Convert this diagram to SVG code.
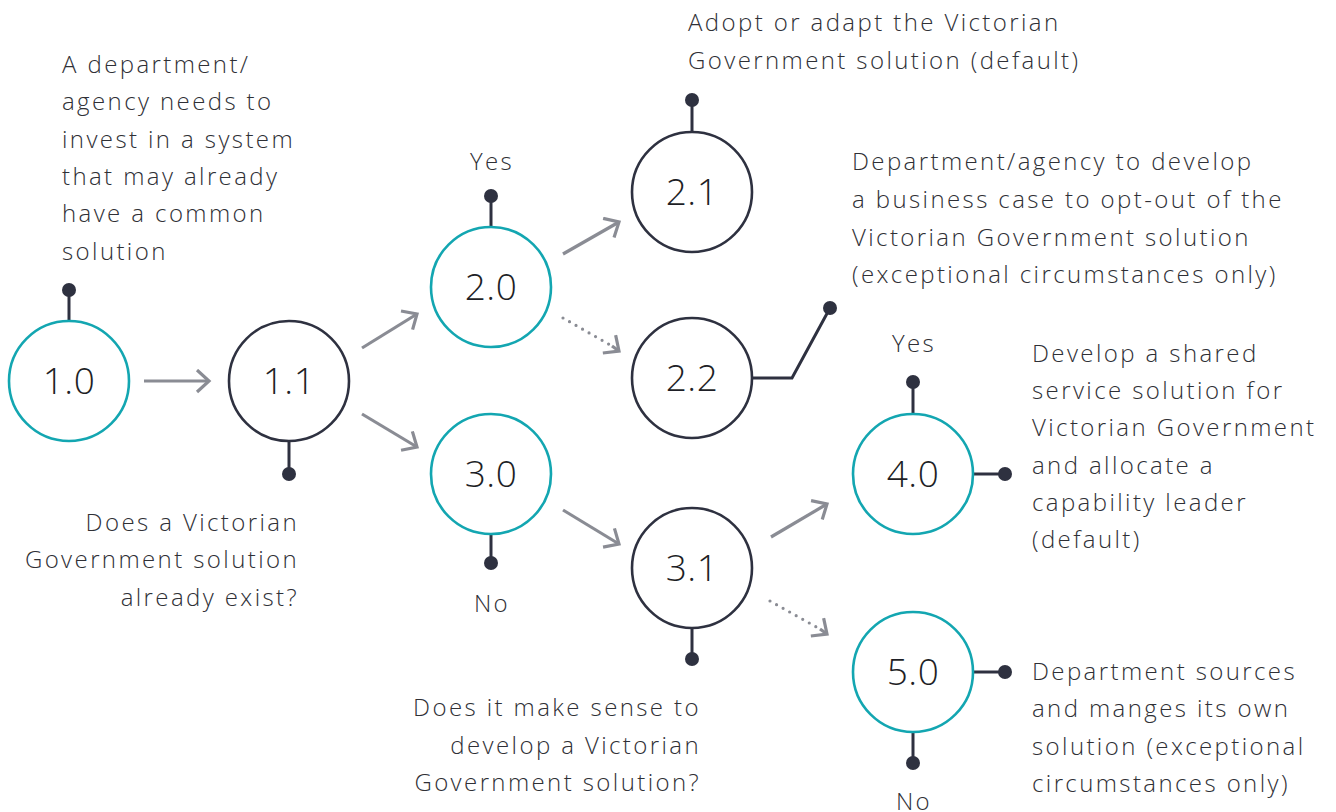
<svg xmlns="http://www.w3.org/2000/svg" width="1336" height="812" viewBox="0 0 1336 812">
<style>
.t{font-family:"Open Sans","Liberation Sans",sans-serif;font-size:24px;font-weight:300;letter-spacing:2.4px;fill:#2f3036}
.r{text-anchor:end}
.c{text-anchor:middle}
.n{font-family:"Open Sans","Liberation Sans",sans-serif;font-size:37px;font-weight:300;letter-spacing:0.5px;fill:#1e1f26;text-anchor:middle}
.teal{fill:#fff;stroke:#13a6b1;stroke-width:2.6}
.dark{fill:#fff;stroke:#2e3140;stroke-width:2.6}
.pin{stroke:#2e3140;stroke-width:3;fill:none}
.dot{fill:#2e3140}
.arr{stroke:#8a8c94;stroke-width:3.2;fill:none;marker-end:url(#ah)}
.dash{stroke:#8a8c94;stroke-width:3.2;fill:none;stroke-dasharray:0 7.5;stroke-linecap:round}
</style>
<defs>
<marker id="ah" markerUnits="userSpaceOnUse" markerWidth="30" markerHeight="30" refX="16" refY="12" orient="auto">
<path d="M4,1 L16,12 L4,23" stroke="#8a8c94" stroke-width="3.2" fill="none"/>
</marker>
</defs>
<g id="connectors">
<line class="arr" x1="144" y1="381" x2="209" y2="381"/>
<line class="arr" x1="362" y1="348" x2="417" y2="314"/>
<line class="arr" x1="362" y1="414" x2="417" y2="447"/>
<line class="arr" x1="563" y1="254" x2="619" y2="222"/>
<line class="dash" x1="563" y1="318" x2="612" y2="346"/>
<line class="arr" x1="612" y1="346" x2="619" y2="351"/>
<line class="arr" x1="563" y1="510" x2="619" y2="544"/>
<line class="arr" x1="771" y1="537" x2="827" y2="504"/>
<line class="dash" x1="770" y1="601" x2="820" y2="629"/>
<line class="arr" x1="820" y1="629" x2="827" y2="634"/>
</g>
<g id="n10">
<line class="pin" x1="69" y1="290" x2="69" y2="321"/><circle class="dot" cx="69" cy="290" r="7"/>
<circle class="teal" cx="69" cy="381" r="60"/>
<text class="n" x="69" y="394">1.0</text>
<text class="t" x="62" y="73">A department/</text>
<text class="t" x="62" y="110">agency needs to</text>
<text class="t" x="62" y="148">invest in a system</text>
<text class="t" x="62" y="185">that may already</text>
<text class="t" x="62" y="222">have a common</text>
<text class="t" x="62" y="260">solution</text>
</g>
<g id="n11">
<line class="pin" x1="289" y1="442" x2="289" y2="474"/><circle class="dot" cx="289" cy="474" r="7"/>
<circle class="dark" cx="289" cy="381" r="60"/>
<text class="n" x="289" y="394">1.1</text>
<text class="t r" x="299" y="531">Does a Victorian</text>
<text class="t r" x="299" y="568">Government solution</text>
<text class="t r" x="299" y="606">already exist?</text>
</g>
<g id="n20">
<line class="pin" x1="491" y1="196" x2="491" y2="226"/><circle class="dot" cx="491" cy="196" r="7"/>
<circle class="teal" cx="491" cy="287" r="60"/>
<text class="n" x="491" y="300">2.0</text>
<text class="t c" x="492" y="170">Yes</text>
</g>
<g id="n21">
<line class="pin" x1="692" y1="100" x2="692" y2="131"/><circle class="dot" cx="692" cy="100" r="7"/>
<circle class="dark" cx="692" cy="192" r="60"/>
<text class="n" x="692" y="205">2.1</text>
<text class="t" x="688" y="31">Adopt or adapt the Victorian</text>
<text class="t" x="688" y="69">Government solution (default)</text>
</g>
<g id="n22">
<polyline class="pin" points="752,378 792,378 830,308"/><circle class="dot" cx="830" cy="308" r="7"/>
<circle class="dark" cx="692" cy="378" r="60"/>
<text class="n" x="692" y="391">2.2</text>
<text class="t" x="852" y="170">Department/agency to develop</text>
<text class="t" x="852" y="208">a business case to opt-out of the</text>
<text class="t" x="852" y="246">Victorian Government solution</text>
<text class="t" x="852" y="283">(exceptional circumstances only)</text>
</g>
<g id="n30">
<line class="pin" x1="491" y1="535" x2="491" y2="563"/><circle class="dot" cx="491" cy="563" r="7"/>
<circle class="teal" cx="491" cy="474" r="60"/>
<text class="n" x="491" y="487">3.0</text>
<text class="t c" x="492" y="612">No</text>
</g>
<g id="n31">
<line class="pin" x1="692" y1="629" x2="692" y2="659"/><circle class="dot" cx="692" cy="659" r="7"/>
<circle class="dark" cx="692" cy="568" r="60"/>
<text class="n" x="692" y="581">3.1</text>
<text class="t r" x="701" y="716">Does it make sense to</text>
<text class="t r" x="701" y="754">develop a Victorian</text>
<text class="t r" x="701" y="791">Government solution?</text>
</g>
<g id="n40">
<line class="pin" x1="913" y1="382" x2="913" y2="413"/><circle class="dot" cx="913" cy="382" r="7"/>
<line class="pin" x1="974" y1="474" x2="1005" y2="474"/><circle class="dot" cx="1005" cy="474" r="7"/>
<circle class="teal" cx="913" cy="474" r="60"/>
<text class="n" x="913" y="487">4.0</text>
<text class="t c" x="914" y="352">Yes</text>
<text class="t" x="1032" y="362">Develop a shared</text>
<text class="t" x="1032" y="399">service solution for</text>
<text class="t" x="1032" y="436">Victorian Government</text>
<text class="t" x="1032" y="474">and allocate a</text>
<text class="t" x="1032" y="511">capability leader</text>
<text class="t" x="1032" y="548">(default)</text>
</g>
<g id="n50">
<line class="pin" x1="974" y1="672" x2="1005" y2="672"/><circle class="dot" cx="1005" cy="672" r="7"/>
<line class="pin" x1="913" y1="733" x2="913" y2="763"/><circle class="dot" cx="913" cy="763" r="7"/>
<circle class="teal" cx="913" cy="672" r="60"/>
<text class="n" x="913" y="685">5.0</text>
<text class="t c" x="914" y="810">No</text>
<text class="t" x="1032" y="680">Department sources</text>
<text class="t" x="1032" y="717">and manges its own</text>
<text class="t" x="1032" y="755">solution (exceptional</text>
<text class="t" x="1032" y="792">circumstances only)</text>
</g>
</svg>
